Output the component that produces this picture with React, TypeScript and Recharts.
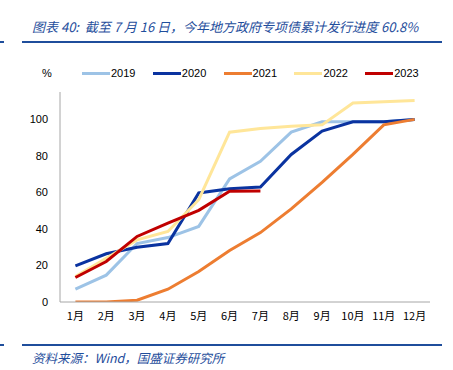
import React from 'react';
import { LineChart, Line, XAxis, YAxis, Legend } from 'recharts';

const months = ['1月', '2月', '3月', '4月', '5月', '6月', '7月', '8月', '9月', '10月', '11月', '12月'];
const s2019 = [7, 14.7, 32, 35.3, 41.4, 67.4, 77, 93, 98.7, 98.7, 98.7, 100];
const s2020 = [19.8, 26.4, 30, 32, 59.7, 62, 63, 80.8, 93.6, 98.7, 98.7, 100];
const s2021 = [0, 0, 1, 7, 16.7, 28.2, 38, 51, 65.5, 80.8, 97, 100];
const s2022 = [14, 24, 34, 38.6, 56, 93, 95, 96.3, 97, 109, 109.7, 110.3];
const s2023: (number | null)[] = [13.4, 22.2, 35.9, 43.2, 50.2, 60.6, 60.8, null, null, null, null, null];
const yTicks = [0, 20, 40, 60, 80, 100];

const seriesDefs = [
  { key: 'y2019', name: '2019', color: '#9DC3E6', values: s2019 },
  { key: 'y2020', name: '2020', color: '#0A33A0', values: s2020 },
  { key: 'y2021', name: '2021', color: '#ED7D31', values: s2021 },
  { key: 'y2022', name: '2022', color: '#FFE699', values: s2022 },
  { key: 'y2023', name: '2023', color: '#C00000', values: s2023 },
];

const data = months.map((m, i) => {
  const row: Record<string, any> = { month: m };
  seriesDefs.forEach((s) => {
    row[s.key] = s.values[i];
  });
  return row;
});

const FONT = '"Liberation Sans", "Noto Sans CJK SC", sans-serif';
const BLUE = '#1F4E9C';

const renderLegend = () => (
  <div style={{ position: 'relative', height: 16, fontFamily: FONT, fontSize: 11, color: '#000' }}>
    <span style={{ position: 'absolute', left: 42, top: 0 }}>%</span>
    {seriesDefs.map((s, i) => (
      <div key={s.key} style={{ position: 'absolute', left: 82 + i * 70.8, top: 0, display: 'flex', alignItems: 'center' }}>
        <span style={{ display: 'inline-block', width: 28, height: 3, background: s.color }} />
        <span style={{ marginLeft: 1 }}>{s.name}</span>
      </div>
    ))}
  </div>
);

export default function App() {
  return (
    <div style={{ position: 'absolute', left: 0, top: 0, width: 453, height: 370, background: '#fff', overflow: 'hidden' }}>
      <div style={{ position: 'absolute', left: 32, top: 17, fontFamily: '"Noto Sans CJK SC", sans-serif', fontStyle: 'italic', fontSize: 13, color: BLUE, whiteSpace: 'nowrap' }}>
        图表 40:&nbsp;&nbsp;截至 7 月 16 日，今年地方政府专项债累计发行进度 60.8%
      </div>
      <div style={{ position: 'absolute', left: 0, top: 41, width: 4, height: 2, background: BLUE }} />
      <div style={{ position: 'absolute', left: 22, top: 41, width: 420, height: 2, background: BLUE }} />
      <div style={{ position: 'absolute', left: 0, top: 344, width: 4, height: 2, background: BLUE }} />
      <div style={{ position: 'absolute', left: 22, top: 344, width: 420, height: 2, background: BLUE }} />
      <div style={{ position: 'absolute', left: 32, top: 348, fontFamily: '"Noto Sans CJK SC", sans-serif', fontStyle: 'italic', fontSize: 12.5, color: BLUE, whiteSpace: 'nowrap' }}>
        资料来源：Wind，国盛证券研究所
      </div>
      <div style={{ position: 'absolute', left: 0, top: 0 }}>
        <LineChart width={453} height={370} data={data} margin={{ top: 76, right: 23, bottom: 38, left: 20 }}>
          <XAxis
            dataKey="month"
            padding={{ left: 15.4, right: 15.4 }}
            tickLine={false}
            tickSize={0}
            tickMargin={10}
            height={30}
            stroke="#A6A6A6"
            tick={{ fill: '#000', fontSize: 11, fontFamily: '"Noto Sans CJK SC", sans-serif' }}
            interval={0}
          />
          <YAxis
            domain={[0, 115]}
            ticks={yTicks}
            width={40}
            tickLine={false}
            tickSize={0}
            tickMargin={12}
            stroke="#A6A6A6"
            tick={{ fill: '#000', fontSize: 11, fontFamily: FONT }}
            allowDataOverflow
          />
          <Legend verticalAlign="top" align="left" content={renderLegend} wrapperStyle={{ top: 67, left: 0, width: 453 }} />
          {seriesDefs.map((s) => (
            <Line
              key={s.key}
              type="linear"
              dataKey={s.key}
              name={s.name}
              stroke={s.color}
              strokeWidth={3}
              dot={false}
              activeDot={false}
              isAnimationActive={false}
              connectNulls={false}
            />
          ))}
        </LineChart>
      </div>
    </div>
  );
}
